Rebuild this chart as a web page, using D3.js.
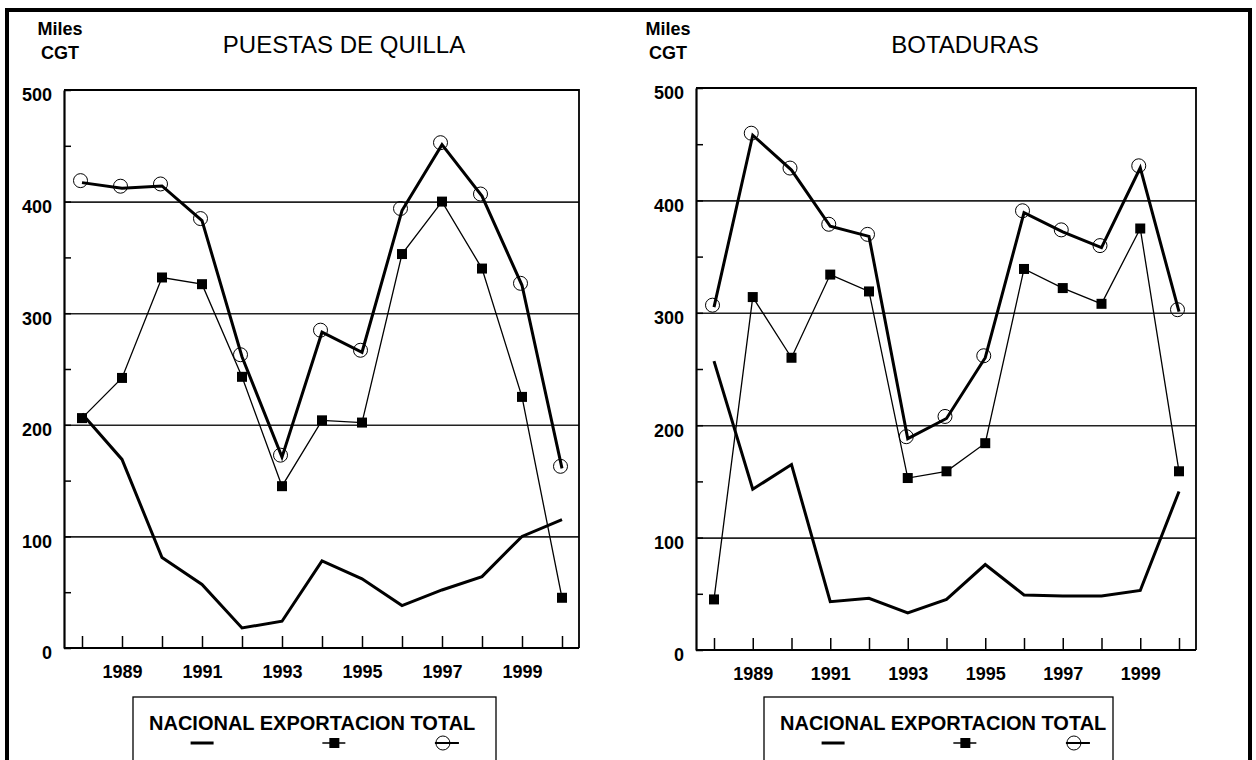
<!DOCTYPE html>
<html>
<head>
<meta charset="utf-8">
<script src="https://cdn.jsdelivr.net/npm/d3@7"></script>
<style>
  body { margin: 0; background: #fff; }
  svg text { font-family: 'Liberation Sans', Arial, sans-serif; fill: #000; }
</style>
</head>
<body>
<svg id="chart"></svg>
<script>
// data (miles CGT)
let years = [1988, 1989, 1990, 1991, 1992, 1993, 1994, 1995, 1996, 1997, 1998, 1999, 2000]
let yearLabels = [1989, 1991, 1993, 1995, 1997, 1999]
let yTicks = [0, 100, 200, 300, 400, 500]
let yMinorTicks = [50, 150, 250, 350, 450]
let gridValues = [100, 200, 300, 400]
let seriesNames = ['NACIONAL', 'EXPORTACION', 'TOTAL']
let unitLines = ['Miles', 'CGT']

let puestasTitle = 'PUESTAS DE QUILLA'
let puestasNacional = [210, 169, 81, 57, 18, 24, 78, 62, 38, 52, 64, 100, 115]
let puestasExportacion = [206, 242, 332, 326, 243, 145, 204, 202, 353, 400, 340, 225, 45]
let puestasTotal = [417, 412, 414, 383, 261, 171, 283, 265, 392, 451, 405, 325, 161]

let botadurasTitle = 'BOTADURAS'
let botadurasNacional = [257, 143, 165, 43, 46, 33, 45, 76, 49, 48, 48, 53, 141]
let botadurasExportacion = [45, 314, 260, 334, 319, 153, 159, 184, 339, 322, 308, 375, 159]
let botadurasTotal = [305, 458, 427, 377, 368, 188, 206, 260, 389, 372, 358, 429, 301]

document.addEventListener('DOMContentLoaded', function () {
    let width = 1256
    let height = 760

    let svg = d3.select('#chart')
        .attr('width', width)
        .attr('height', height)

    // big frame round both panels
    svg.append('rect')
        .attr('x', 7).attr('y', 10)
        .attr('width', 1243).attr('height', 780)
        .attr('fill', 'none')
        .attr('stroke', '#000')
        .attr('stroke-width', 4)

    let panels = [
        { title: puestasTitle, nac: puestasNacional, exp: puestasExportacion, tot: puestasTotal,
          x0: 64, x1: 579, y0: 90, y1: 648, titleX: 344, unitX: 60, legendX: 133, legendW: 363 },
        { title: botadurasTitle, nac: botadurasNacional, exp: botadurasExportacion, tot: botadurasTotal,
          x0: 696, x1: 1196, y0: 88, y1: 650, titleX: 965, unitX: 668, legendX: 764, legendW: 349 }
    ]

    let drawPanel = (p) => {
        let g = svg.append('g')

        let xScale = d3.scaleLinear()
            .domain([1988, 2000])
            .range([p.x0 + 18, p.x1 - 17])
        let yScale = d3.scaleLinear()
            .domain([0, 500])
            .range([p.y1, p.y0])

        // title and unit label
        g.append('text')
            .attr('x', p.titleX).attr('y', 53)
            .attr('text-anchor', 'middle')
            .style('font-size', '24px')
            .text(p.title)
        unitLines.forEach((t, i) => {
            g.append('text')
                .attr('x', p.unitX).attr('y', 35 + i * 24)
                .attr('text-anchor', 'middle')
                .style('font-size', '18px')
                .style('font-weight', 'bold')
                .text(t)
        })

        // horizontal gridlines
        g.append('g')
            .attr('transform', 'translate(' + p.x0 + ',0)')
            .call(d3.axisLeft(yScale).tickValues(gridValues).tickSize(-(p.x1 - p.x0)).tickFormat(''))
            .call(a => a.select('.domain').remove())
            .selectAll('line')
            .attr('stroke', '#222')
            .attr('stroke-width', 1.6)

        // top and right frame
        g.append('path')
            .attr('d', 'M' + p.x0 + ',' + p.y0 + 'H' + p.x1 + 'V' + p.y1)
            .attr('fill', 'none')
            .attr('stroke', '#000')
            .attr('stroke-width', 1.8)

        // y axis: labels every 100, short inward ticks in between
        let yAxis = g.append('g')
            .attr('transform', 'translate(' + p.x0 + ',0)')
            .call(d3.axisLeft(yScale).tickValues(yTicks.concat(yMinorTicks))
                .tickSizeInner(-7).tickSizeOuter(0).tickPadding(12)
                .tickFormat(d => yTicks.includes(d) ? d : ''))
        yAxis.select('.domain').attr('stroke-width', 2.2)
        yAxis.selectAll('line').attr('stroke-width', 1.5)
        yAxis.selectAll('text')
            .attr('dy', '0.6em')
            .style('font-size', '18px')
            .style('font-weight', 'bold')

        // x axis: tick every year pointing up, odd years labelled
        let xAxis = g.append('g')
            .attr('transform', 'translate(0,' + p.y1 + ')')
            .call(d3.axisBottom(xScale).tickValues(years)
                .tickSizeInner(-12).tickSizeOuter(0).tickPadding(17)
                .tickFormat(d => yearLabels.includes(d) ? d : ''))
        xAxis.select('.domain')
            .attr('d', 'M' + p.x0 + ',0H' + p.x1)
            .attr('stroke-width', 2.2)
        xAxis.selectAll('line').attr('stroke-width', 1.5)
        xAxis.selectAll('text')
            .style('font-size', '18px')
            .style('font-weight', 'bold')

        let line = d3.line()
            .x((d, i) => xScale(years[i]))
            .y(d => yScale(d))

        // NACIONAL - thick plain line
        g.append('path')
            .datum(p.nac)
            .attr('d', line)
            .attr('fill', 'none')
            .attr('stroke', '#000')
            .attr('stroke-width', 3)

        // EXPORTACION - thin line with squares
        g.append('path')
            .datum(p.exp)
            .attr('d', line)
            .attr('fill', 'none')
            .attr('stroke', '#000')
            .attr('stroke-width', 1.3)
        g.selectAll('.sq')
            .data(p.exp)
            .enter()
            .append('rect')
            .attr('class', 'sq')
            .attr('x', (d, i) => xScale(years[i]) - 5)
            .attr('y', d => yScale(d) - 5)
            .attr('width', 10)
            .attr('height', 10)
            .attr('fill', '#000')

        // TOTAL - thick line with open circles (circles sit a touch up-left, as in the original)
        g.append('path')
            .datum(p.tot)
            .attr('d', line)
            .attr('fill', 'none')
            .attr('stroke', '#000')
            .attr('stroke-width', 3)
        g.selectAll('.ci')
            .data(p.tot)
            .enter()
            .append('circle')
            .attr('class', 'ci')
            .attr('cx', (d, i) => xScale(years[i]) - 1.5)
            .attr('cy', d => yScale(d) - 2)
            .attr('r', 7)
            .attr('fill', 'none')
            .attr('stroke', '#000')
            .attr('stroke-width', 1)

        // legend box, one line of text with the symbols under each word
        let lg = g.append('g').attr('transform', 'translate(' + p.legendX + ',697)')
        lg.append('rect')
            .attr('width', p.legendW).attr('height', 90)
            .attr('fill', '#fff')
            .attr('stroke', '#000')
            .attr('stroke-width', 1.3)
        let label = lg.append('text')
            .attr('x', 16).attr('y', 33)
            .style('font-size', '20px')
            .style('font-weight', 'bold')
            .text(seriesNames.join(' '))
        let node = label.node()
        let c = []
        let pos = 0
        seriesNames.forEach(name => {
            let w = node.getSubStringLength(pos, name.length)
            let start = pos === 0 ? 0 : node.getSubStringLength(0, pos)
            c.push(16 + start + w / 2)
            pos += name.length + 1
        })
        lg.append('line')
            .attr('x1', c[0] - 11).attr('x2', c[0] + 12).attr('y1', 46).attr('y2', 46)
            .attr('stroke', '#000').attr('stroke-width', 3)
        lg.append('line')
            .attr('x1', c[1] - 10).attr('x2', c[1] + 13).attr('y1', 46).attr('y2', 46)
            .attr('stroke', '#000').attr('stroke-width', 1.5)
        lg.append('rect')
            .attr('x', c[1] - 3).attr('y', 41).attr('width', 10).attr('height', 10)
            .attr('fill', '#000')
        lg.append('line')
            .attr('x1', c[2] - 8).attr('x2', c[2] + 16).attr('y1', 46).attr('y2', 46)
            .attr('stroke', '#000').attr('stroke-width', 2)
        lg.append('circle')
            .attr('cx', c[2]).attr('cy', 46).attr('r', 7)
            .attr('fill', 'none').attr('stroke', '#000').attr('stroke-width', 1)
    }

    panels.forEach(drawPanel)
})
</script>
</body>
</html>
